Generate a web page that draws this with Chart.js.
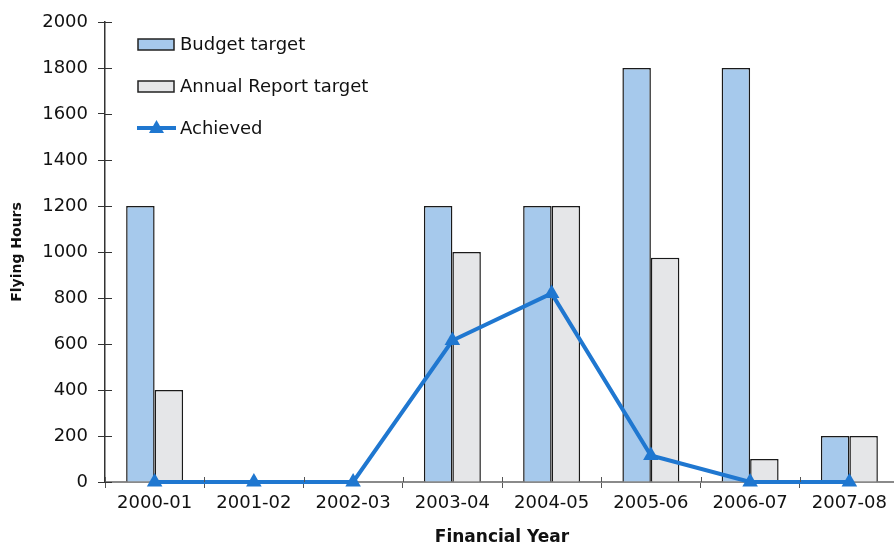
<!DOCTYPE html>
<html>
<head>
<meta charset="utf-8">
<script src="https://cdn.jsdelivr.net/npm/chart.js@4.4.1/dist/chart.umd.min.js"></script>
<style>
  html, body { margin: 0; padding: 0; background: #fff; overflow: hidden; }
  canvas { display: block; }
</style>
</head>
<body>
<canvas id="hours" width="900" height="544"></canvas>
<script>
const years = ['2000-01', '2001-02', '2002-03', '2003-04', '2004-05', '2005-06', '2006-07', '2007-08'];
const budgetTarget = [1200, 0, 0, 1200, 1200, 1800, 1800, 200];
const annualReportTarget = [400, 0, 0, 1000, 1200, 975, 100, 200];
const achieved = [0, 0, 0, 615, 820, 115, 0, 0];

const FONT = 'DejaVu Sans';
const lineBlue = '#1f77d0';

// legend drawn inside the plot, top left
const boxLegend = {
    id: 'boxLegend',
    afterDraw(chart) {
        const ctx = chart.ctx;
        const x0 = 138, y0 = 44, step = 42;
        ctx.save();
        ctx.font = '18px "' + FONT + '"';
        ctx.textBaseline = 'middle';
        chart.data.datasets.forEach((ds, i) => {
            const y = y0 + i * step;
            if (ds.type === 'line') {
                ctx.strokeStyle = ds.borderColor;
                ctx.lineWidth = 4;
                ctx.beginPath();
                ctx.moveTo(x0 - 1, y);
                ctx.lineTo(x0 + 38, y);
                ctx.stroke();
                ctx.fillStyle = ds.borderColor;
                ctx.beginPath();
                ctx.moveTo(x0 + 18.5, y - 8);
                ctx.lineTo(x0 + 26, y + 5);
                ctx.lineTo(x0 + 11, y + 5);
                ctx.closePath();
                ctx.fill();
            } else {
                ctx.fillStyle = ds.backgroundColor;
                ctx.fillRect(x0, y - 5, 36, 11);
                ctx.strokeStyle = '#222';
                ctx.lineWidth = 1.5;
                ctx.strokeRect(x0, y - 5, 36, 11);
            }
            ctx.fillStyle = '#111';
            ctx.fillText(ds.label, x0 + 42, y + 1);
        });
        ctx.restore();
    }
};

// tick marks that also reach a little inside the axes
const innerTicks = {
    id: 'innerTicks',
    afterDraw(chart) {
        const ctx = chart.ctx;
        const xs = chart.scales.x, ys = chart.scales.y;
        const left = chart.chartArea.left, bottom = chart.chartArea.bottom;
        ctx.save();
        ctx.lineWidth = 1;
        ctx.strokeStyle = '#333';
        ys.ticks.forEach((t, i) => {
            const y = Math.round(ys.getPixelForTick(i)) + 0.5;
            ctx.beginPath();
            ctx.moveTo(left, y);
            ctx.lineTo(left + 7, y);
            ctx.stroke();
        });
        ctx.strokeStyle = '#555';
        const w = (xs.right - xs.left) / years.length;
        for (let i = 0; i <= years.length; i++) {
            const x = Math.round(xs.left + i * w) + 0.5;
            ctx.beginPath();
            ctx.moveTo(x, bottom);
            ctx.lineTo(x, bottom - 5);
            ctx.stroke();
        }
        ctx.restore();
    }
};

new Chart(document.getElementById('hours'), {
    data: {
        labels: years,
        datasets: [
            {
                type: 'bar',
                label: 'Budget target',
                data: budgetTarget,
                backgroundColor: '#a6c9ec',
                borderColor: '#1a1a1a',
                borderWidth: 1.5,
                order: 1
            },
            {
                type: 'bar',
                label: 'Annual Report target',
                data: annualReportTarget,
                backgroundColor: '#e5e6e8',
                borderColor: '#1a1a1a',
                borderWidth: 1.5,
                order: 1
            },
            {
                type: 'line',
                label: 'Achieved',
                data: achieved,
                borderColor: lineBlue,
                backgroundColor: lineBlue,
                borderWidth: 4,
                tension: 0,
                pointStyle: 'triangle',
                pointRadius: 9,
                pointBorderWidth: 0,
                pointBackgroundColor: lineBlue,
                clip: false,
                order: 0
            }
        ]
    },
    options: {
        responsive: false,
        animation: false,
        devicePixelRatio: 1,
        datasets: {
            bar: { barPercentage: 1, categoryPercentage: 0.574 }
        },
        layout: { autoPadding: false, padding: { top: 22, right: 1, left: 0, bottom: 0 } },
        plugins: {
            legend: { display: false },
            tooltip: { enabled: false }
        },
        scales: {
            x: {
                grid: { drawOnChartArea: false, drawTicks: true, tickLength: 6, color: '#555', offset: true },
                border: { color: '#8a8a8a', width: 2 },
                ticks: { color: '#111', font: { family: FONT, size: 18 }, padding: 5, maxRotation: 0 },
                title: { display: true, text: 'Financial Year', color: '#111', font: { family: FONT, size: 17, weight: 'bold' }, padding: { top: 0, bottom: -4 } },
                afterFit(scale) {
                    scale.height = 62;
                    scale.paddingLeft = 0;
                    scale.paddingRight = 0;
                }
            },
            y: {
                min: 0,
                max: 2000,
                ticks: { stepSize: 200, color: '#111', font: { family: FONT, size: 18 }, padding: 10, callback: v => String(v) },
                grid: { drawOnChartArea: false, drawTicks: true, tickLength: 7, color: '#333' },
                border: { color: '#333', width: 1.5 },
                title: { display: true, text: 'Flying Hours', color: '#111', font: { family: FONT, size: 14, weight: 'bold' }, padding: { top: 9, bottom: 0 } },
                afterFit(scale) { scale.width = 105; }
            }
        }
    },
    plugins: [boxLegend, innerTicks]
});
</script>
</body>
</html>
